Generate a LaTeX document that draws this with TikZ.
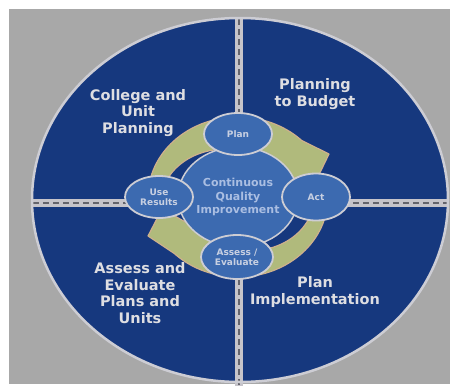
\documentclass[tikz,border=0pt]{standalone}
\usepackage{fontspec}
\setmainfont{DejaVu Sans}
\definecolor{bggray}{RGB}{168,168,168}
\definecolor{navy}{RGB}{22,56,126}
\definecolor{midblue}{RGB}{60,106,176}
\definecolor{rimgray}{RGB}{205,205,212}
\definecolor{bandgray}{RGB}{198,196,202}
\definecolor{dashgray}{RGB}{100,100,108}
\definecolor{ringfill}{RGB}{176,186,124}
\definecolor{ringedge}{RGB}{206,176,140}
\definecolor{quadtext}{RGB}{222,222,226}
\definecolor{cqitext}{RGB}{170,190,226}
\definecolor{smalltext}{RGB}{200,208,226}
\tikzset{
  quadlabel/.style={text=quadtext, align=center, font=\bfseries\fontsize{14.5}{16.5}\selectfont, inner sep=0pt},
  smalloval/.style={ellipse, fill=midblue, draw=rimgray, line width=1.8pt, text=smalltext, align=center, font=\bfseries\fontsize{9}{10}\selectfont, inner sep=0pt},
  ringarrow/.style={fill=ringfill, draw=ringedge, line width=1.2pt, line join=round},
  band/.style={line width=8pt, draw=bandgray},
  banddash/.style={line width=1.3pt, draw=dashgray, dash pattern=on 6pt off 4pt}
}
\usetikzlibrary{shapes.geometric}
\begin{document}
\begin{tikzpicture}[x=1pt,y=-1pt]
\useasboundingbox (0,0) rectangle (450,386);
\fill[white] (0,0) rectangle (450,386);
\fill[bggray] (9,9) rectangle (450,384);
% big disc
\fill[navy] (240,200) ellipse [x radius=208, y radius=182];
% dividers
\coordinate (vtop) at (239,19);
\coordinate (vbot) at (239,386);
\coordinate (hleft) at (33,203);
\coordinate (hright) at (447,203);
\draw[band] (vtop) -- (vbot);
\draw[banddash] (vtop) -- (vbot);
\draw[band] (hleft) -- (hright);
\draw[banddash] (hleft) -- (hright);
\draw[rimgray, line width=2.5pt] (240,200) ellipse [x radius=208, y radius=182];
% ring arrows (clockwise)
\draw[ringarrow] (238,197) ++(185:90 and 80)
  arc[start angle=185, end angle=315, x radius=90, y radius=80]
  -- (329,154) -- (314,185) -- (275,170)
  arc[start angle=322, end angle=185, x radius=64, y radius=54] -- cycle;
\draw[ringarrow] (238,197) ++(5:90 and 80)
  arc[start angle=5, end angle=135, x radius=90, y radius=80]
  -- (148,236) -- (162,209) -- (200,230)
  arc[start angle=142, end angle=5, x radius=64, y radius=54] -- cycle;
% centre
\node[ellipse, fill=midblue, draw=rimgray, line width=1.5pt, minimum width=120pt, minimum height=100pt, inner sep=0pt] (cqi) at (238,197) {};
\node[text=cqitext, align=center, font=\bfseries\fontsize{11}{13.3}\selectfont, inner sep=0pt] (cqitxt) at (238,197) {Continuous\\Quality\\Improvement};
% small ovals
\node[smalloval, minimum width=68pt, minimum height=42pt] (plan) at (238,134) {Plan};
\node[smalloval, minimum width=68pt, minimum height=47pt] (act) at (316,197) {Act};
\node[smalloval, minimum width=68pt, minimum height=42pt] (use) at (159,197) {Use\\Results};
\node[smalloval, minimum width=72pt, minimum height=44pt] (assess) at (237,257) {Assess /\\Evaluate};
% quadrant labels
\node[quadlabel] (q1) at (138,113) {College and\\Unit\\Planning};
\node[quadlabel] (q2) at (315,94) {Planning\\to Budget};
\node[quadlabel] (q3) at (140,293) {Assess and\\Evaluate\\Plans and\\Units};
\node[quadlabel] (q4) at (315,292) {Plan\\Implementation};
\end{tikzpicture}
\end{document}
